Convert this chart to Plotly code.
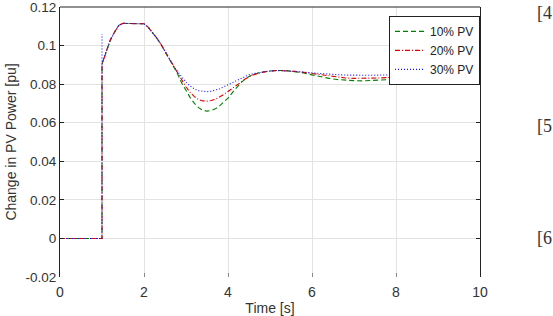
import plotly.graph_objects as go

# ---- data ----
time_s = [0, 1.0, 1.0, 1.0, 1.1, 1.2, 1.3, 1.4, 1.5, 1.6, 1.8, 2.0, 2.1, 2.2, 2.3, 2.4,
          2.5, 2.6, 2.7, 2.8, 2.9, 3.0, 3.1, 3.2, 3.3, 3.4, 3.5, 3.6, 3.7, 3.8, 3.9,
          4.0, 4.1, 4.2, 4.3, 4.4, 4.5, 4.6, 4.8, 5.0, 5.2, 5.4, 5.6, 5.8, 6.0, 6.2,
          6.4, 6.6, 6.8, 7.0, 7.2, 7.4, 7.6, 7.8, 8.0, 8.5, 9.0, 9.5, 10.0]

head = [0, 0, 0.0904, 0.0904, 0.097, 0.103, 0.107, 0.1105, 0.1115, 0.1115, 0.1115,
        0.1113, 0.1095, 0.107, 0.104, 0.1008, 0.097, 0.093, 0.0895]

pv10 = head + [0.0853, 0.0805, 0.0765, 0.073, 0.070, 0.0678, 0.0664, 0.066, 0.0663,
               0.0672, 0.0687, 0.0705, 0.0728, 0.0755, 0.0782, 0.0805, 0.0825, 0.084,
               0.085, 0.0862, 0.0868, 0.0871, 0.087, 0.0865, 0.0858, 0.0848, 0.0838,
               0.083, 0.0824, 0.082, 0.0818, 0.0817, 0.0818, 0.082, 0.0823, 0.0826,
               0.083, 0.0832, 0.0832, 0.0832]

pv20 = head + [0.0857, 0.082, 0.0785, 0.0757, 0.0735, 0.072, 0.0713, 0.0712, 0.0715,
               0.0722, 0.0733, 0.0746, 0.0762, 0.0778, 0.0795, 0.081, 0.0825, 0.0838,
               0.0848, 0.0861, 0.0868, 0.0871, 0.087, 0.0866, 0.0861, 0.0855, 0.0848,
               0.0842, 0.0836, 0.0832, 0.083, 0.083, 0.083, 0.0832, 0.0834, 0.0836,
               0.0839, 0.0841, 0.0842, 0.0842]

pv30 = [0, 0, 0.106, 0.0904] + head[4:] + [0.0865, 0.0835, 0.081, 0.079, 0.0775, 0.0766,
               0.0762, 0.0761, 0.0763, 0.0768, 0.0776, 0.0786, 0.0797, 0.0808, 0.082,
               0.0831, 0.0841, 0.0849, 0.0855, 0.0863, 0.0868, 0.087, 0.0869, 0.0866,
               0.0862, 0.0858, 0.0855, 0.0852, 0.0849, 0.0847, 0.0846, 0.0846, 0.0846,
               0.0847, 0.0848, 0.0849, 0.085, 0.0851, 0.0851, 0.0851]

series_names = ["10% PV", "20% PV", "30% PV"]
series_colors = ["#008000", "#e00000", "#1010ff"]
series_dash = ["5px,3px", "5px,2px,1px,2px", "1px,2px"]

x_ticks = [0, 2, 4, 6, 8, 10]
y_ticks = [-0.02, 0, 0.02, 0.04, 0.06, 0.08, 0.1, 0.12]
y_ticktext = ["-0.02", "0", "0.02", "0.04", "0.06", "0.08", "0.1", "0.12"]
side_refs = ["[4", "[5", "[6"]

fig = go.Figure()
for name, ys, c, d in zip(series_names, [pv10, pv20, pv30], series_colors, series_dash):
    fig.add_trace(go.Scatter(x=time_s, y=ys, mode="lines", name=name,
                             line=dict(color=c, dash=d, width=1.1)))

fig.update_layout(
    width=553, height=316,
    margin=dict(l=60, r=73, t=7, b=39),
    paper_bgcolor="white", plot_bgcolor="white",
    font=dict(family="Liberation Sans, Arial", size=13, color="#333333"),
    showlegend=True,
    legend=dict(x=1, y=0.967, xanchor="right", yanchor="top",
                bgcolor="white", bordercolor="#222222", borderwidth=1,
                font=dict(size=12, color="#222222"), tracegroupgap=0,
                itemwidth=30),
    xaxis=dict(range=[0, 10], tickvals=x_ticks, showgrid=True, gridcolor="#e3e3e3",
               zeroline=False, showline=False, ticks="inside", ticklen=4,
               tickcolor="#888888", ticklabelstandoff=5, automargin=False,
               ticklabeloverflow="allow", tickfont=dict(size=14),
               title=dict(text="Time [s]", standoff=12, font=dict(size=14))),
    yaxis=dict(range=[-0.02, 0.1200001], tickvals=y_ticks, ticktext=y_ticktext,
               showgrid=True, gridcolor="#e3e3e3", zeroline=False,
               showline=True, linecolor="#222222", linewidth=1, mirror="ticks",
               ticks="inside", ticklen=4, tickcolor="#222222", ticklabelstandoff=0,
               automargin=False, ticklabeloverflow="allow", tickfont=dict(size=13.5),
               title=dict(text="Change in PV Power [pu]", standoff=5, font=dict(size=14))),
)

fig.add_shape(type="line", xref="paper", yref="paper", x0=0, x1=1, y0=1, y1=1,
              line=dict(color="#222222", width=1))

for txt, yv in zip(side_refs, [0.117, 0.0585, 0.0]):
    fig.add_annotation(text=txt, xref="paper", yref="y", x=1.131, y=yv,
                       xanchor="left", yanchor="middle", showarrow=False,
                       font=dict(family="Liberation Serif, Times New Roman", size=18,
                                 color="#333333"))

fig.write_html("out.html")
